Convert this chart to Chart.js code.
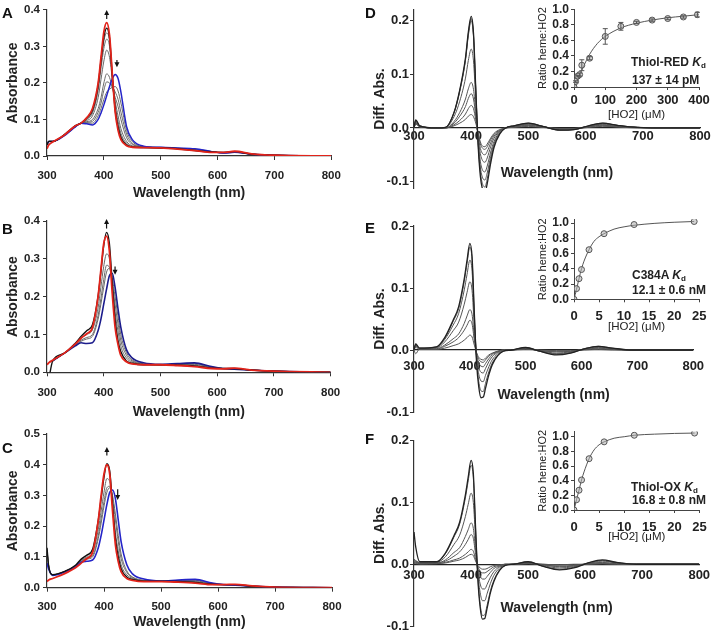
<!DOCTYPE html>
<html>
<head>
<meta charset="utf-8">
<script src="https://cdn.jsdelivr.net/npm/chart.js@4"></script>
<style>
  body { margin: 0; background: #fff; overflow: hidden; width: 713px; height: 632px; position: relative; }
  canvas { position: absolute; }
  .lbl { position: absolute; font: bold 15px "Liberation Sans", Arial, sans-serif; line-height: 15px; color: #111; }
  .ann { position: absolute; font: bold 12px "Liberation Sans", Arial, sans-serif; line-height: 14px; color: #222; white-space: nowrap; }
  .ann sub { font-size: 8px; vertical-align: -2px; }
</style>
</head>
<body>
<canvas id="panelA" width="350" height="202" style="left:0;top:0"></canvas>
<canvas id="panelB" width="350" height="221" style="left:0;top:200px"></canvas>
<canvas id="panelC" width="350" height="232" style="left:0;top:400px"></canvas>
<canvas id="panelD" width="353" height="203" style="left:360px;top:0"></canvas>
<canvas id="panelE" width="353" height="217" style="left:360px;top:210px"></canvas>
<canvas id="panelF" width="353" height="221" style="left:360px;top:420px"></canvas>
<canvas id="insetD" width="183" height="125" style="left:530px;top:0"></canvas>
<canvas id="insetE" width="183" height="125" style="left:530px;top:210px"></canvas>
<canvas id="insetF" width="183" height="125" style="left:530px;top:420px"></canvas>

<div class="lbl" style="left:2px;top:5px">A</div>
<div class="lbl" style="left:2px;top:221px">B</div>
<div class="lbl" style="left:2px;top:440px">C</div>
<div class="lbl" style="left:365px;top:5px">D</div>
<div class="lbl" style="left:365px;top:220px">E</div>
<div class="lbl" style="left:365px;top:431px">F</div>

<div class="ann" style="left:631px;top:55px">Thiol-RED <i>K</i><sub>d</sub></div>
<div class="ann" style="left:632px;top:73px">137 ± 14 pM</div>
<div class="ann" style="left:632px;top:268px">C384A <i>K</i><sub>d</sub></div>
<div class="ann" style="left:632px;top:283px">12.1 ± 0.6 nM</div>
<div class="ann" style="left:631px;top:480px">Thiol-OX <i>K</i><sub>d</sub></div>
<div class="ann" style="left:632px;top:493px">16.8 ± 0.8 nM</div>

<script>
/* wavelength grids (nm) */
const wl = [300, 303, 310, 330, 350, 360, 370, 380, 390, 395, 400, 405, 410, 415, 420, 425, 430, 440, 450, 470, 500, 530, 560, 590, 610, 630, 660, 700, 800];
const wlDiff = [300, 303, 310, 340, 355, 370, 380, 390, 395, 400, 404, 408, 412, 416, 420, 424, 428, 434, 440, 450, 460, 475, 500, 525, 555, 580, 605, 630, 655, 690, 750, 800];
const wlTicks = [300, 400, 500, 600, 700, 800];

/* A: absorbance spectra */
const aBlue  = [0.03, 0.04, 0.04, 0.055, 0.08, 0.09, 0.088, 0.085, 0.1, 0.118, 0.14, 0.165, 0.19, 0.212, 0.223, 0.212, 0.175, 0.08, 0.045, 0.027, 0.024, 0.022, 0.02, 0.012, 0.008, 0.01, 0.005, 0.002, 0];
const aGray1 = [0.03, 0.04, 0.04, 0.055, 0.08, 0.09, 0.09, 0.09, 0.11, 0.13, 0.155, 0.175, 0.183, 0.188, 0.19, 0.178, 0.145, 0.07, 0.04, 0.026, 0.024, 0.021, 0.019, 0.012, 0.008, 0.01, 0.005, 0.002, 0];
const aGray2 = [0.03, 0.04, 0.04, 0.056, 0.08, 0.09, 0.092, 0.095, 0.12, 0.145, 0.18, 0.203, 0.2, 0.19, 0.175, 0.155, 0.12, 0.06, 0.035, 0.025, 0.023, 0.021, 0.018, 0.012, 0.008, 0.01, 0.005, 0.002, 0];
const aGray3 = [0.03, 0.04, 0.04, 0.056, 0.08, 0.09, 0.094, 0.1, 0.13, 0.16, 0.2, 0.225, 0.215, 0.185, 0.16, 0.135, 0.1, 0.05, 0.032, 0.025, 0.023, 0.021, 0.017, 0.012, 0.008, 0.011, 0.005, 0.002, 0];
const aGray4 = [0.03, 0.04, 0.04, 0.057, 0.081, 0.09, 0.097, 0.11, 0.16, 0.21, 0.26, 0.29, 0.27, 0.21, 0.15, 0.11, 0.075, 0.04, 0.028, 0.024, 0.023, 0.02, 0.016, 0.011, 0.009, 0.011, 0.005, 0.002, 0];
const aGray5 = [0.03, 0.04, 0.04, 0.057, 0.082, 0.09, 0.1, 0.118, 0.18, 0.24, 0.295, 0.32, 0.3, 0.215, 0.14, 0.095, 0.062, 0.035, 0.026, 0.024, 0.022, 0.02, 0.016, 0.011, 0.009, 0.011, 0.005, 0.002, 0];
const aGray6 = [0.03, 0.04, 0.04, 0.058, 0.083, 0.09, 0.102, 0.122, 0.19, 0.255, 0.315, 0.337, 0.315, 0.215, 0.13, 0.085, 0.055, 0.032, 0.025, 0.023, 0.022, 0.02, 0.015, 0.011, 0.009, 0.011, 0.005, 0.002, 0];
const aBlack = [0.03, 0.04, 0.04, 0.058, 0.083, 0.09, 0.104, 0.126, 0.195, 0.262, 0.325, 0.35, 0.322, 0.218, 0.125, 0.078, 0.05, 0.03, 0.025, 0.023, 0.022, 0.02, 0.015, 0.011, 0.01, 0.012, 0.005, 0.002, 0];
const aRed   = [0.02, 0.03, 0.038, 0.057, 0.083, 0.09, 0.105, 0.13, 0.2, 0.27, 0.34, 0.365, 0.33, 0.22, 0.12, 0.07, 0.045, 0.028, 0.024, 0.023, 0.022, 0.019, 0.015, 0.01, 0.01, 0.013, 0.006, 0.002, 0];
const aArrows = [[405, 0.375, 0.4], [423, 0.263, 0.243]];

/* B */
const bBlue  = [null, null, 0.03, 0.05, 0.07, 0.078, 0.076, 0.078, 0.11, 0.14, 0.18, 0.22, 0.255, 0.262, 0.225, 0.17, 0.12, 0.06, 0.038, 0.025, 0.021, 0.023, 0.025, 0.015, 0.01, 0.008, 0.006, 0.003, 0];
const bGray1 = [null, null, 0.03, 0.05, 0.072, 0.082, 0.088, 0.095, 0.14, 0.18, 0.225, 0.265, 0.275, 0.25, 0.2, 0.15, 0.1, 0.052, 0.033, 0.023, 0.02, 0.022, 0.023, 0.014, 0.01, 0.008, 0.006, 0.003, 0];
const bGray2 = [null, null, 0.03, 0.05, 0.073, 0.085, 0.092, 0.1, 0.15, 0.195, 0.245, 0.283, 0.278, 0.235, 0.18, 0.13, 0.085, 0.045, 0.03, 0.022, 0.02, 0.021, 0.021, 0.013, 0.01, 0.009, 0.006, 0.003, 0];
const bGray3 = [null, null, 0.03, 0.05, 0.075, 0.09, 0.1, 0.112, 0.17, 0.225, 0.28, 0.313, 0.3, 0.23, 0.16, 0.11, 0.07, 0.038, 0.027, 0.021, 0.02, 0.02, 0.019, 0.012, 0.01, 0.009, 0.006, 0.003, 0];
const bBlack = [null, -0.02, 0.03, 0.05, 0.077, 0.095, 0.11, 0.125, 0.2, 0.265, 0.335, 0.37, 0.34, 0.235, 0.14, 0.085, 0.055, 0.03, 0.024, 0.02, 0.02, 0.019, 0.017, 0.011, 0.01, 0.01, 0.006, 0.003, 0];
const bRed   = [0.02, 0.025, 0.032, 0.05, 0.075, 0.09, 0.102, 0.118, 0.2, 0.27, 0.34, 0.36, 0.32, 0.21, 0.12, 0.075, 0.045, 0.028, 0.022, 0.02, 0.02, 0.018, 0.015, 0.01, 0.009, 0.011, 0.006, 0.003, 0];
const bArrows = [[405, 0.38, 0.405], [420, 0.28, 0.258]];

/* C */
const cBlue  = [0.08, 0.06, 0.04, 0.05, 0.068, 0.083, 0.086, 0.09, 0.13, 0.17, 0.22, 0.27, 0.31, 0.318, 0.29, 0.22, 0.15, 0.075, 0.045, 0.028, 0.022, 0.025, 0.027, 0.015, 0.01, 0.008, 0.005, 0.002, 0];
const cGray1 = [0.12, 0.07, 0.042, 0.052, 0.07, 0.085, 0.093, 0.1, 0.16, 0.21, 0.265, 0.31, 0.325, 0.3, 0.24, 0.17, 0.11, 0.055, 0.035, 0.024, 0.021, 0.023, 0.024, 0.014, 0.01, 0.008, 0.005, 0.002, 0];
const cGray2 = [0.12, 0.07, 0.042, 0.052, 0.071, 0.087, 0.096, 0.105, 0.17, 0.225, 0.28, 0.325, 0.33, 0.29, 0.22, 0.15, 0.095, 0.05, 0.033, 0.023, 0.021, 0.022, 0.022, 0.013, 0.01, 0.008, 0.005, 0.002, 0];
const cGray3 = [0.125, 0.07, 0.042, 0.052, 0.072, 0.09, 0.1, 0.115, 0.19, 0.25, 0.31, 0.355, 0.345, 0.27, 0.18, 0.12, 0.075, 0.042, 0.03, 0.022, 0.021, 0.021, 0.02, 0.012, 0.01, 0.009, 0.005, 0.002, 0];
const cBlack = [0.13, 0.07, 0.042, 0.052, 0.073, 0.093, 0.106, 0.125, 0.22, 0.29, 0.36, 0.403, 0.38, 0.27, 0.16, 0.1, 0.062, 0.035, 0.027, 0.021, 0.021, 0.02, 0.017, 0.011, 0.01, 0.01, 0.005, 0.002, 0];
const cRed   = [0.02, 0.025, 0.03, 0.045, 0.065, 0.08, 0.095, 0.115, 0.22, 0.3, 0.37, 0.4, 0.37, 0.25, 0.14, 0.085, 0.052, 0.03, 0.024, 0.02, 0.02, 0.018, 0.015, 0.01, 0.01, 0.011, 0.006, 0.002, 0];
const cArrows = [[405, 0.43, 0.458], [424, 0.32, 0.285]];

/* D: difference spectra, thiol-reduced */
const dDiff1 = [0, 0.015, 0.004, 0, 0.001, 0.029, 0.071, 0.131, 0.179, 0.208, 0.177, 0.073, -0.03, -0.09, -0.115, -0.12, -0.104, -0.066, -0.036, -0.011, 0, 0.004, 0.009, 0.003, -0.004, -0.003, 0.004, 0.009, 0.005, 0.001, 0, 0];
const dDiff2 = [0, 0.014, 0.004, 0, 0.001, 0.029, 0.07, 0.128, 0.176, 0.204, 0.174, 0.072, -0.027, -0.082, -0.105, -0.11, -0.095, -0.06, -0.033, -0.01, 0, 0.004, 0.009, 0.003, -0.004, -0.003, 0.004, 0.009, 0.005, 0.001, 0, 0];
const dDiff3 = [0, 0.013, 0.004, 0, 0.001, 0.028, 0.068, 0.126, 0.172, 0.2, 0.17, 0.07, -0.024, -0.073, -0.093, -0.097, -0.084, -0.053, -0.029, -0.009, 0, 0.004, 0.008, 0.003, -0.004, -0.003, 0.003, 0.008, 0.005, 0.001, 0, 0];
const dDiff4 = [0, 0.012, 0.003, 0, 0.001, 0.021, 0.05, 0.093, 0.126, 0.147, 0.125, 0.051, -0.02, -0.062, -0.079, -0.082, -0.071, -0.045, -0.025, -0.007, 0, 0.003, 0.007, 0.003, -0.003, -0.002, 0.003, 0.007, 0.004, 0.001, 0, 0];
const dDiff5 = [0, 0.01, 0.003, 0, 0, 0.012, 0.029, 0.054, 0.073, 0.085, 0.072, 0.03, -0.016, -0.048, -0.061, -0.064, -0.056, -0.035, -0.019, -0.006, 0, 0.003, 0.006, 0.002, -0.003, -0.002, 0.003, 0.006, 0.003, 0.001, 0, 0];
const dDiff6 = [0, 0.009, 0.003, 0, 0, 0.009, 0.022, 0.04, 0.055, 0.064, 0.054, 0.022, -0.013, -0.038, -0.048, -0.05, -0.044, -0.028, -0.015, -0.005, 0, 0.002, 0.005, 0.002, -0.002, -0.002, 0.002, 0.005, 0.003, 0.001, 0, 0];
const dDiff7 = [0, 0.008, 0.002, 0, 0, 0.006, 0.014, 0.026, 0.036, 0.042, 0.036, 0.015, -0.01, -0.03, -0.038, -0.04, -0.035, -0.022, -0.012, -0.004, 0, 0.002, 0.004, 0.002, -0.002, -0.001, 0.002, 0.004, 0.002, 0.001, 0, 0];
const dDiff8 = [0, 0.007, 0.002, 0, 0, 0.004, 0.009, 0.016, 0.022, 0.025, 0.021, 0.009, -0.009, -0.026, -0.034, -0.035, -0.03, -0.019, -0.01, -0.003, 0, 0.001, 0.003, 0.001, -0.001, -0.001, 0.001, 0.003, 0.002, 0, 0, 0];

/* E: difference spectra, C384A */
const eDiff1 = [0, 0.01, 0.003, 0.005, 0.02, 0.048, 0.07, 0.115, 0.145, 0.172, 0.15, 0.06, -0.02, -0.06, -0.077, -0.076, -0.062, -0.04, -0.024, -0.009, -0.002, 0, 0.004, -0.002, -0.008, -0.005, 0.002, 0.006, 0.003, 0, 0, 0];
const eDiff2 = [0, 0.009, 0.003, 0.005, 0.019, 0.046, 0.067, 0.111, 0.14, 0.166, 0.145, 0.058, -0.016, -0.051, -0.066, -0.067, -0.054, -0.035, -0.021, -0.008, -0.002, 0, 0.004, -0.002, -0.007, -0.005, 0.002, 0.006, 0.003, 0, 0, 0];
const eDiff3 = [0, 0.008, 0.003, 0.004, 0.017, 0.04, 0.059, 0.097, 0.122, 0.145, 0.127, 0.05, -0.012, -0.039, -0.05, -0.051, -0.041, -0.027, -0.016, -0.006, -0.001, 0, 0.003, -0.002, -0.006, -0.004, 0.002, 0.005, 0.002, 0, 0, 0];
const eDiff4 = [0, 0.007, 0.002, 0.003, 0.013, 0.031, 0.045, 0.074, 0.093, 0.11, 0.096, 0.038, -0.009, -0.028, -0.036, -0.037, -0.03, -0.019, -0.011, -0.004, -0.001, 0, 0.003, -0.001, -0.005, -0.003, 0.001, 0.004, 0.002, 0, 0, 0];
const eDiff5 = [0, 0.006, 0.002, 0.002, 0.008, 0.018, 0.026, 0.043, 0.055, 0.065, 0.057, 0.022, -0.007, -0.021, -0.026, -0.027, -0.022, -0.014, -0.008, -0.003, 0, 0, 0.002, -0.001, -0.003, -0.002, 0.001, 0.003, 0.001, 0, 0, 0];
const eDiff6 = [0, -0.006, 0.002, 0.001, 0.006, 0.013, 0.02, 0.032, 0.04, 0.048, 0.042, 0.016, -0.005, -0.015, -0.019, -0.02, -0.016, -0.01, -0.006, -0.002, 0, 0, 0.002, -0.001, -0.002, -0.002, 0.001, 0.002, 0.001, 0, 0, 0];
const eDiff7 = [0, 0.004, 0.001, 0.001, 0.003, 0.007, 0.01, 0.016, 0.02, 0.024, 0.021, 0.008, -0.004, -0.012, -0.015, -0.016, -0.013, -0.008, -0.005, -0.002, 0, 0, 0.001, 0, -0.001, -0.001, 0, 0.001, 0, 0, 0, 0];

/* F: difference spectra, thiol-oxidized */
const fDiff1 = [0.052, 0.028, 0.004, 0.004, 0.018, 0.046, 0.068, 0.112, 0.141, 0.168, 0.147, 0.058, -0.025, -0.07, -0.089, -0.088, -0.072, -0.046, -0.028, -0.01, -0.002, 0, 0.004, -0.003, -0.009, -0.006, 0.002, 0.007, 0.003, 0, 0, 0];
const fDiff2 = [0.008, 0.006, 0.003, 0.004, 0.017, 0.044, 0.065, 0.107, 0.135, 0.16, 0.14, 0.055, -0.022, -0.065, -0.083, -0.082, -0.067, -0.043, -0.026, -0.009, -0.002, 0, 0.004, -0.003, -0.008, -0.005, 0.002, 0.006, 0.003, 0, 0, 0];
const fDiff3 = [0.006, 0.005, 0.002, 0.003, 0.012, 0.032, 0.047, 0.077, 0.097, 0.115, 0.1, 0.04, -0.016, -0.046, -0.059, -0.059, -0.048, -0.031, -0.018, -0.006, -0.001, 0, 0.003, -0.002, -0.006, -0.004, 0.001, 0.005, 0.002, 0, 0, 0];
const fDiff4 = [0.004, 0.004, 0.002, 0.002, 0.007, 0.019, 0.027, 0.045, 0.056, 0.067, 0.058, 0.023, -0.011, -0.032, -0.04, -0.04, -0.033, -0.021, -0.012, -0.004, -0.001, 0, 0.002, -0.001, -0.004, -0.003, 0.001, 0.003, 0.001, 0, 0, 0];
const fDiff5 = [0.003, 0.003, 0.001, 0.002, 0.005, 0.013, 0.02, 0.032, 0.04, 0.048, 0.042, 0.016, -0.007, -0.019, -0.024, -0.024, -0.02, -0.013, -0.007, -0.003, 0, 0, 0.002, -0.001, -0.003, -0.002, 0.001, 0.002, 0.001, 0, 0, 0];
const fDiff6 = [0.002, 0.002, 0.001, 0.001, 0.003, 0.007, 0.01, 0.016, 0.02, 0.024, 0.021, 0.008, -0.004, -0.011, -0.014, -0.014, -0.012, -0.008, -0.004, -0.002, 0, 0, 0.001, 0, -0.001, -0.001, 0, 0.001, 0, 0, 0, 0];
const fDiff7 = [0.001, 0.001, 0, 0.001, 0.002, 0.005, 0.007, 0.011, 0.014, 0.016, 0.014, 0.005, -0.002, -0.006, -0.008, -0.008, -0.007, -0.004, -0.002, -0.001, 0, 0, 0.001, 0, -0.001, 0, 0, 0.001, 0, 0, 0, 0];

/* insets: titration points, error bars, fitted curves */
const dConc = [0, 5, 12, 18, 25, 50, 100, 150, 200, 250, 300, 350, 395];
const dRatio = [0, 0.07, 0.14, 0.16, 0.28, 0.37, 0.65, 0.78, 0.83, 0.86, 0.88, 0.9, 0.93];
const dErr = [0, 0.01, 0.01, 0.02, 0.07, 0.02, 0.1, 0.05, 0.015, 0.015, 0.015, 0.015, 0.03];
const dFitX = [0, 5, 10, 20, 30, 50, 75, 100, 150, 200, 250, 300, 350, 400];
const dFitY = [0, 0.03, 0.07, 0.17, 0.26, 0.42, 0.56, 0.65, 0.76, 0.82, 0.86, 0.89, 0.91, 0.93];
const dConcTicks = [0, 100, 200, 300, 400];

const eConc = [0, 0.5, 1, 1.5, 3, 6, 12, 24];
const eRatio = [0, 0.14, 0.27, 0.39, 0.65, 0.86, 0.98, 1.02];
const eFitX = [0, 0.5, 1, 1.5, 2, 3, 4, 5, 6, 8, 10, 12, 16, 20, 24];
const eFitY = [0, 0.13, 0.27, 0.4, 0.5, 0.65, 0.76, 0.82, 0.86, 0.92, 0.95, 0.97, 0.995, 1.01, 1.02];

const fConc = [0, 0.5, 1, 1.5, 3, 6, 12, 24];
const fRatio = [0, 0.14, 0.27, 0.41, 0.7, 0.93, 1.02, 1.05];
const fFitX = [0, 0.5, 1, 1.5, 2, 3, 4, 5, 6, 8, 10, 12, 16, 20, 24];
const fFitY = [0, 0.14, 0.27, 0.41, 0.52, 0.7, 0.82, 0.89, 0.93, 0.98, 1.0, 1.02, 1.035, 1.045, 1.05];
const smallConcTicks = [0, 5, 10, 15, 20, 25];
const ratioTicks = [0, 0.2, 0.4, 0.6, 0.8, 1.0];

const FONT = '"Liberation Sans", Arial, sans-serif';
const RED = '#e2231a', BLUE = '#2424c8', NAVY = '#1c1c8c', GRAY = '#6a6a6a', BLACK = '#111';

function pts(xs, ys) { return xs.map((x, i) => ({ x, y: ys[i] })); }
function fixSize(w, h) {
  return scale => { if (w != null) scale.width = w; if (h != null) scale.height = h; };
}
function setTicks(list) {
  return scale => { scale.ticks = list.map(v => ({ value: v })); };
}

function arrowPlugin(list) {
  return {
    id: 'arrows',
    afterDatasetsDraw(chart) {
      const { ctx, scales: { x, y } } = chart;
      ctx.save();
      ctx.strokeStyle = BLACK; ctx.fillStyle = BLACK; ctx.lineWidth = 1.2;
      list.forEach(a => {
        const px = x.getPixelForValue(a[0]);
        const p0 = y.getPixelForValue(a[1]);
        const p1 = y.getPixelForValue(a[2]);
        const dir = Math.sign(p1 - p0);
        ctx.beginPath(); ctx.moveTo(px, p0); ctx.lineTo(px, p1 - dir * 3); ctx.stroke();
        ctx.beginPath();
        ctx.moveTo(px, p1);
        ctx.lineTo(px - 2.5, p1 - dir * 5);
        ctx.lineTo(px + 2.5, p1 - dir * 5);
        ctx.closePath(); ctx.fill();
      });
      ctx.restore();
    }
  };
}

function errorBarPlugin(xs, ys, errs) {
  return {
    id: 'errbars',
    afterDatasetsDraw(chart) {
      const { ctx, scales: { x, y } } = chart;
      ctx.save();
      ctx.strokeStyle = '#555'; ctx.lineWidth = 1;
      xs.forEach((v, i) => {
        if (!errs[i]) return;
        const px = x.getPixelForValue(v);
        const lo = y.getPixelForValue(ys[i] - errs[i]);
        const hi = y.getPixelForValue(ys[i] + errs[i]);
        ctx.beginPath();
        ctx.moveTo(px, lo); ctx.lineTo(px, hi);
        ctx.moveTo(px - 2.5, lo); ctx.lineTo(px + 2.5, lo);
        ctx.moveTo(px - 2.5, hi); ctx.lineTo(px + 2.5, hi);
        ctx.stroke();
      });
      ctx.restore();
    }
  };
}

function lineSet(xs, ys, color, width, order) {
  return {
    data: pts(xs, ys), borderColor: color, borderWidth: width, order,
    showLine: true, pointRadius: 0, fill: false, cubicInterpolationMode: 'monotone'
  };
}

/* Absorbance panels A-C */
function spectraChart(id, curves, arrows, cfg) {
  new Chart(document.getElementById(id), {
    type: 'scatter',
    data: { datasets: curves.map(c => lineSet(wl, c[0], c[1], c[2], c[3])) },
    options: {
      responsive: false, animation: false, events: [],
      layout: { padding: { top: cfg.top, right: 12.5, left: 0, bottom: 0 } },
      plugins: { legend: { display: false }, tooltip: { enabled: false } },
      scales: {
        x: {
          type: 'linear', min: 300, max: 800,
          afterBuildTicks: setTicks(wlTicks), afterFit: fixSize(null, cfg.xH),
          grid: { drawOnChartArea: false, tickLength: 4, color: '#333' },
          border: { color: '#333', width: 1.2 },
          ticks: { color: '#222', padding: cfg.xPad, maxRotation: 0, autoSkip: false, font: { family: FONT, size: 11.5, weight: 'bold' } },
          title: { display: true, text: 'Wavelength (nm)', color: '#222', padding: { top: 0, bottom: cfg.tPad }, font: { family: FONT, size: 14, weight: 'bold' } }
        },
        y: {
          min: 0, max: cfg.yMax,
          afterBuildTicks: setTicks(cfg.yTicks), afterFit: fixSize(47, null),
          grid: { drawOnChartArea: false, tickLength: 4, color: '#333' },
          border: { color: '#333', width: 1.2 },
          ticks: { color: '#222', padding: 3, autoSkip: false, font: { family: FONT, size: 11.5, weight: 'bold' }, callback: v => v.toFixed(1) },
          title: { display: true, text: 'Absorbance', color: '#222', padding: { top: 4.6, bottom: 0 }, font: { family: FONT, size: 14, weight: 'bold' } }
        }
      }
    },
    plugins: [arrowPlugin(arrows)]
  });
}

spectraChart('panelA', [
  [aRed, RED, 1.8, 0], [aBlack, BLACK, 1.4, 1], [aBlue, BLUE, 1.5, 2],
  [aGray6, GRAY, 1, 3], [aGray5, GRAY, 1, 3], [aGray4, GRAY, 1, 3],
  [aGray3, GRAY, 1, 3], [aGray2, GRAY, 1, 3], [aGray1, GRAY, 1, 3]
], aArrows, { top: 5, xH: 46, xPad: 9.1, tPad: 0.6, yMax: 0.4, yTicks: [0, 0.1, 0.2, 0.3, 0.4] });

spectraChart('panelB', [
  [bRed, RED, 1.8, 0], [bBlack, BLACK, 1.4, 1], [bBlue, NAVY, 1.6, 2],
  [bGray3, GRAY, 1, 3], [bGray2, GRAY, 1, 3], [bGray1, GRAY, 1, 3]
], bArrows, { top: 21, xH: 48.7, xPad: 9.8, tPad: 0.6, yMax: 0.4, yTicks: [0, 0.1, 0.2, 0.3, 0.4] });

spectraChart('panelC', [
  [cRed, RED, 1.8, 0], [cBlack, BLACK, 1.4, 1], [cBlue, BLUE, 1.6, 2],
  [cGray3, GRAY, 1, 3], [cGray2, GRAY, 1, 3], [cGray1, GRAY, 1, 3]
], cArrows, { top: 34, xH: 44.3, xPad: 8.4, tPad: 1.6, yMax: 0.5, yTicks: [0, 0.1, 0.2, 0.3, 0.4, 0.5] });

/* Difference panels D-F: x axis sits on the zero line, so it takes no layout room */
function diffChart(id, curves, cfg) {
  new Chart(document.getElementById(id), {
    type: 'scatter',
    data: { datasets: curves.map((c, i) => lineSet(wlDiff, c, i === 0 ? '#222' : '#555', i === 0 ? 1.3 : 1, i)) },
    options: {
      responsive: false, animation: false, events: [],
      layout: { padding: { top: cfg.top, right: 13, left: 0, bottom: 15 } },
      plugins: { legend: { display: false }, tooltip: { enabled: false } },
      scales: {
        x: {
          type: 'linear', min: 300, max: 800, position: { y: 0 },
          afterBuildTicks: setTicks(wlTicks), afterFit: fixSize(null, 60),
          grid: { drawOnChartArea: false, drawTicks: false },
          border: { color: '#222', width: 1.2 },
          ticks: { color: '#222', padding: cfg.xPad, maxRotation: 0, autoSkip: false, font: { family: FONT, size: 13, weight: 'bold' } },
          title: { display: true, text: 'Wavelength (nm)', color: '#222', padding: { top: 0, bottom: cfg.tPad }, font: { family: FONT, size: 14, weight: 'bold' } }
        },
        y: {
          min: cfg.yMin, max: cfg.yMax,
          afterBuildTicks: setTicks([-0.1, 0, 0.1, 0.2]), afterFit: fixSize(54, null),
          grid: { drawOnChartArea: false, tickLength: 4, color: '#333' },
          border: { color: '#333', width: 1.2 },
          ticks: { color: '#222', padding: 1, autoSkip: false, font: { family: FONT, size: 13, weight: 'bold' }, callback: v => v.toFixed(1) },
          title: { display: true, text: 'Diff. Abs.', color: '#222', padding: { top: 11.6, bottom: 0 }, font: { family: FONT, size: 14, weight: 'bold' } }
        }
      }
    }
  });
}

diffChart('panelD', [dDiff1, dDiff2, dDiff3, dDiff4, dDiff5, dDiff6, dDiff7, dDiff8],
  { top: 10, yMin: -0.112, yMax: 0.22, xPad: 0.9, tPad: 6.6 });
diffChart('panelE', [eDiff1, eDiff2, eDiff3, eDiff4, eDiff5, eDiff6, eDiff7],
  { top: 16, yMin: -0.1, yMax: 0.2, xPad: 8.9, tPad: 6.6 });
diffChart('panelF', [fDiff1, fDiff2, fDiff3, fDiff4, fDiff5, fDiff6, fDiff7],
  { top: 20.7, yMin: -0.1, yMax: 0.2, xPad: 2.9, tPad: 7.8 });

/* Binding insets */
function insetChart(id, xs, ys, fitX, fitY, cfg, extra) {
  new Chart(document.getElementById(id), {
    type: 'scatter',
    data: {
      datasets: [
        { data: pts(xs, ys), pointStyle: 'circle', pointRadius: 3, borderWidth: 1,
          borderColor: '#555', backgroundColor: 'rgba(175,175,175,0.55)', order: 0 },
        lineSet(fitX, fitY, '#555', 1, 1)
      ]
    },
    options: {
      responsive: false, animation: false, events: [],
      layout: { padding: { top: cfg.top, right: cfg.right, left: 0, bottom: 0 } },
      plugins: { legend: { display: false }, tooltip: { enabled: false } },
      scales: {
        x: {
          type: 'linear', min: 0, max: cfg.xMax,
          afterBuildTicks: setTicks(cfg.xTicks), afterFit: fixSize(null, cfg.xH),
          grid: { drawOnChartArea: false, tickLength: 3, color: '#444' },
          border: { color: '#444', width: 1 },
          ticks: { color: '#222', padding: cfg.xPad, maxRotation: 0, autoSkip: false, font: { family: FONT, size: 13, weight: 'bold' } },
          title: { display: true, text: '[HO2] (\u03bcM)', color: '#222', padding: { top: 0, bottom: cfg.tPad }, font: { family: FONT, size: 11.5 } }
        },
        y: {
          min: 0, max: cfg.yMax,
          afterBuildTicks: setTicks(ratioTicks), afterFit: fixSize(44, null),
          grid: { drawOnChartArea: false, tickLength: 3, color: '#444' },
          border: { color: '#444', width: 1 },
          ticks: { color: '#222', padding: 2, autoSkip: false, font: { family: FONT, size: 12, weight: 'bold' }, callback: v => v.toFixed(1) },
          title: { display: true, text: 'Ratio heme:HO2', color: '#222', padding: { top: 6.4, bottom: 0 }, font: { family: FONT, size: 11 } }
        }
      }
    },
    plugins: extra ? [extra] : []
  });
}

insetChart('insetD', dConc, dRatio, dFitX, dFitY,
  { top: 7, right: 14, xMax: 400, xTicks: dConcTicks, xH: 38, xPad: 2.2, tPad: 3.1, yMax: 1.0 },
  errorBarPlugin(dConc, dRatio, dErr));
insetChart('insetE', eConc, eRatio, eFitX, eFitY,
  { top: 8.4, right: 13, xMax: 25, xTicks: smallConcTicks, xH: 35.7, xPad: 6.6, tPad: 1.1, yMax: 1.05 });
insetChart('insetF', fConc, fRatio, fFitX, fFitY,
  { top: 11.6, right: 13, xMax: 25, xTicks: smallConcTicks, xH: 35, xPad: 6.2, tPad: 1.1, yMax: 1.07 });
</script>
</body>
</html>
